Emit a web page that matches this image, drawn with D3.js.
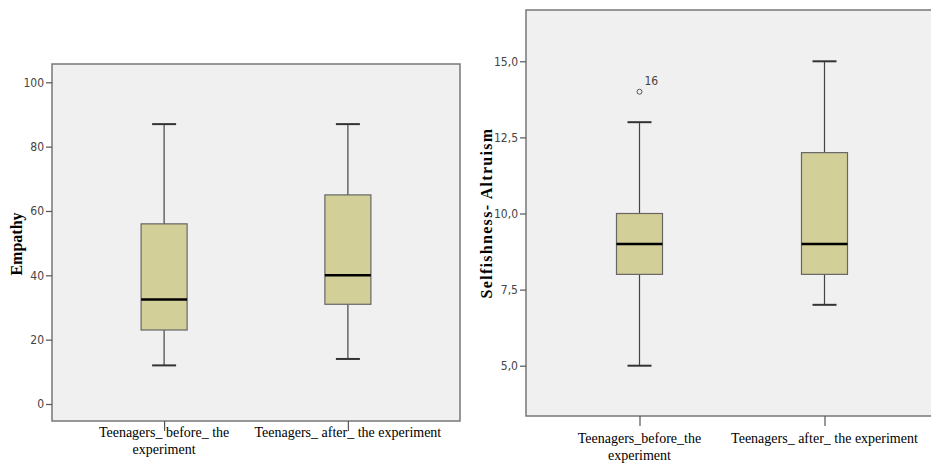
<!DOCTYPE html>
<html>
<head>
<meta charset="utf-8">
<script src="https://cdn.jsdelivr.net/npm/d3@7"></script>
<style>
  body { margin: 0; background: #fff; }
  .tick text { font-family: "Liberation Sans Narrow", "DejaVu Sans Condensed", "Liberation Sans", sans-serif; font-size: 12px; fill: #444; }
  .tick line { stroke: #555; stroke-width: 1.2; }
  .domain { display: none; }
</style>
</head>
<body>
<script>
// two SPSS style boxplots side by side

var width = 931;
var height = 464;

var groups = ["before", "after"];
var leftLabels = [["Teenagers_ before_ the", "experiment"], ["Teenagers_ after_ the experiment"]];
var rightLabels = [["Teenagers_before_the", "experiment"], ["Teenagers_ after_ the experiment"]];

// [whisker low, Q1, median, Q3, whisker high]
var empathyStats = [[12, 23, 32.5, 56, 87], [14, 31, 40, 65, 87]];
var altruismStats = [[5, 8, 9, 10, 13], [7, 8, 9, 12, 15]];
var altruismOutliers = [{group: "before", value: 14, label: "16"}];

var empathyTicks = [0, 20, 40, 60, 80, 100];
var altruismTicks = [5, 7.5, 10, 12.5, 15];

var svg = d3.select("body")
    .append("svg")
    .attr("width", width)
    .attr("height", height);

function drawPanel(cfg) {
  var g = svg.append("g");

  var xScale = d3.scalePoint()
      .domain(groups)
      .range([cfg.left, cfg.right])
      .padding(cfg.pad);

  var yScale = d3.scaleLinear()
      .domain(cfg.domain)
      .range(cfg.range);

  // plot area
  g.append("rect")
   .attr("x", cfg.left)
   .attr("y", cfg.top)
   .attr("width", cfg.right - cfg.left)
   .attr("height", cfg.bottom - cfg.top)
   .attr("fill", "#f0f0f0")
   .attr("stroke", "#777")
   .attr("stroke-width", 1.5);

  var boxW = 46, capW = 24;

  var boxes = g.selectAll("g.box")
      .data(cfg.stats)
      .enter()
      .append("g")
      .attr("class", "box")
      .attr("transform", function(d, i){ return "translate(" + xScale(groups[i]) + ",0)"; });

  // whisker stem
  boxes.append("line")
       .attr("x1", 0).attr("x2", 0)
       .attr("y1", function(d){ return yScale(d[0]); })
       .attr("y2", function(d){ return yScale(d[4]); })
       .attr("stroke", "#444")
       .attr("stroke-width", 1.2);

  // caps
  [0, 4].forEach(function(k){
    boxes.append("line")
         .attr("x1", -capW / 2).attr("x2", capW / 2)
         .attr("y1", function(d){ return yScale(d[k]); })
         .attr("y2", function(d){ return yScale(d[k]); })
         .attr("stroke", "#333")
         .attr("stroke-width", 2);
  });

  boxes.append("rect")
       .attr("x", -boxW / 2)
       .attr("width", boxW)
       .attr("y", function(d){ return yScale(d[3]); })
       .attr("height", function(d){ return yScale(d[1]) - yScale(d[3]); })
       .attr("fill", "#d3cf99")
       .attr("stroke", "#666")
       .attr("stroke-width", 1.2);

  boxes.append("line")
       .attr("x1", -boxW / 2).attr("x2", boxW / 2)
       .attr("y1", function(d){ return yScale(d[2]); })
       .attr("y2", function(d){ return yScale(d[2]); })
       .attr("stroke", "#000")
       .attr("stroke-width", 2.5);

  // outliers
  g.selectAll("circle.out")
   .data(cfg.outliers)
   .enter()
   .append("circle")
   .attr("class", "out")
   .attr("cx", function(d){ return xScale(d.group); })
   .attr("cy", function(d){ return yScale(d.value); })
   .attr("r", 2.5)
   .attr("fill", "none")
   .attr("stroke", "#555")
   .attr("stroke-width", 1);

  g.selectAll("text.outlabel")
   .data(cfg.outliers)
   .enter()
   .append("text")
   .attr("class", "outlabel")
   .attr("x", function(d){ return xScale(d.group) + 5; })
   .attr("y", function(d){ return yScale(d.value) - 7; })
   .attr("font-family", "Liberation Sans Narrow, DejaVu Sans Condensed, Liberation Sans, sans-serif")
   .attr("font-size", 12)
   .attr("fill", "#444")
   .text(function(d){ return d.label; });

  // axes
  var yAxis = d3.axisLeft(yScale)
      .tickValues(cfg.ticks)
      .tickSize(6)
      .tickPadding(2)
      .tickFormat(cfg.fmt);

  g.append("g")
   .attr("transform", "translate(" + cfg.left + ",0)")
   .call(yAxis);

  var xAxis = d3.axisBottom(xScale)
      .tickSize(10)
      .tickFormat("");

  g.append("g")
   .attr("transform", "translate(0," + cfg.bottom + ")")
   .call(xAxis);

  // category labels, wrapped
  var labs = g.selectAll("text.cat")
      .data(cfg.labels)
      .enter()
      .append("text")
      .attr("class", "cat")
      .attr("text-anchor", "middle")
      .attr("font-family", "Liberation Serif, Times New Roman, serif")
      .attr("font-size", 14)
      .attr("fill", "#000")
      .attr("y", cfg.labelY);

  labs.selectAll("tspan")
      .data(function(d, i){ return d.map(function(s){ return {s: s, i: i}; }); })
      .enter()
      .append("tspan")
      .attr("x", function(d){ return xScale(groups[d.i]); })
      .attr("dy", function(d, j){ return j === 0 ? 0 : 17; })
      .text(function(d){ return d.s; });

  // y title
  g.append("text")
   .attr("transform", "translate(" + cfg.titleX + "," + cfg.titleY + ") rotate(-90)")
   .attr("text-anchor", "middle")
   .attr("font-family", "Liberation Serif, Times New Roman, serif")
   .attr("font-weight", "bold")
   .attr("font-size", 16)
   .attr("letter-spacing", cfg.spacing)
   .text(cfg.title);
}

drawPanel({
  left: 52, right: 460, top: 64, bottom: 421, pad: 0.61,
  domain: [0, 100], range: [404, 82.3],
  stats: empathyStats, outliers: [],
  ticks: empathyTicks, fmt: d3.format("d"),
  labels: leftLabels, labelY: 437,
  title: "Empathy", titleX: 22, titleY: 244, spacing: 0
});

drawPanel({
  left: 526, right: 938, top: 10, bottom: 416, pad: 0.6135,
  domain: [5, 15], range: [365.7, 61.3],
  stats: altruismStats, outliers: altruismOutliers,
  ticks: altruismTicks, fmt: function(d){ return d3.format(".1f")(d).replace(".", ","); },
  labels: rightLabels, labelY: 443,
  title: "Selfishness- Altruism", titleX: 492, titleY: 213, spacing: 1.3
});
</script>
</body>
</html>
